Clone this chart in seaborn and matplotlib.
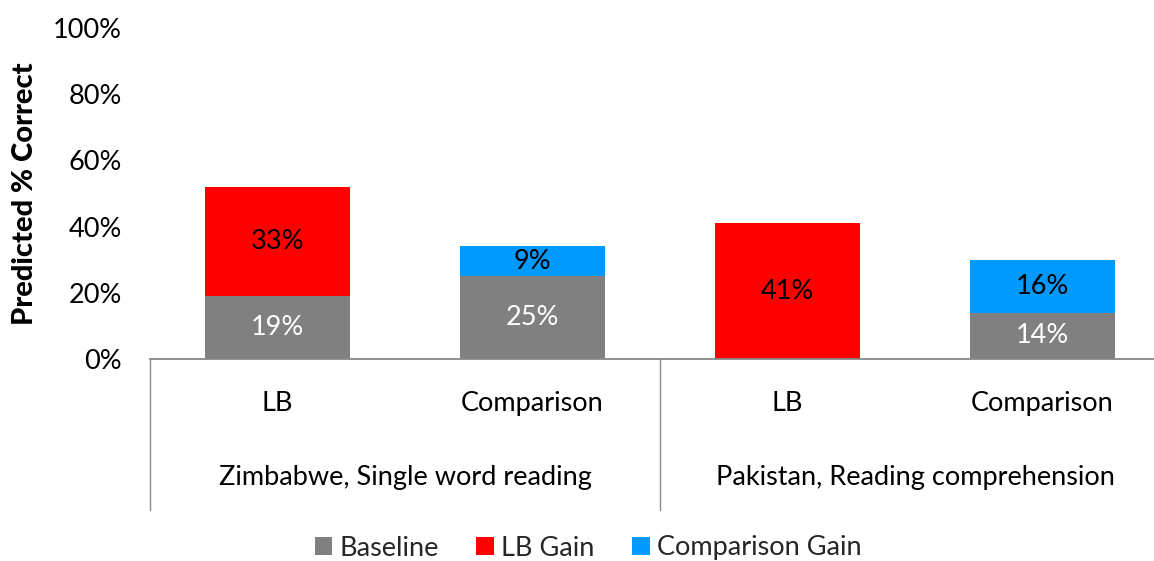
import matplotlib
matplotlib.use("Agg")
import matplotlib.pyplot as plt
from matplotlib.patches import Patch
import matplotlib.transforms as mtransforms
import pandas as pd
import seaborn as sns

# Data
groups = ["Zimbabwe, Single word reading", "Zimbabwe, Single word reading",
          "Pakistan, Reading comprehension", "Pakistan, Reading comprehension"]
arms = ["LB", "Comparison", "LB", "Comparison"]
baseline = [19, 25, 0, 14]
gain = [33, 9, 41, 16]
y_ticks = [0, 20, 40, 60, 80, 100]
legend_labels = ["Baseline", "LB Gain", "Comparison Gain"]

GRAY = "#808080"
RED = "#FF0000"
BLUE = "#0099FF"
AXIS = "#888888"
FS = 19.5

sns.set_theme(style="white")
plt.rcParams["font.family"] = ["Lato", "DejaVu Sans"]

df = pd.DataFrame({"group": groups, "arm": arms, "baseline": baseline, "gain": gain})
df["key"] = [f"{g}|{a}" for g, a in zip(df["group"], df["arm"])]
df["total"] = df["baseline"] + df["gain"]

fig = plt.figure(figsize=(11.54, 5.61), dpi=100)
ax = fig.add_axes([150 / 1154, 1 - 359 / 561, 1020 / 1154, 331 / 561])

bar_w = 0.57
sns.barplot(data=df, x="key", y="total", hue="arm",
            palette={"LB": RED, "Comparison": BLUE}, dodge=False,
            width=bar_w, saturation=1, legend=False, ax=ax, order=list(df["key"]),
            linewidth=0)
sns.barplot(data=df, x="key", y="baseline", color=GRAY,
            width=bar_w, saturation=1, ax=ax, order=list(df["key"]), linewidth=0)

# Segment labels
for i, row in df.iterrows():
    if row["baseline"] > 0:
        ax.text(i, row["baseline"] / 2, f"{row['baseline']:.0f}%", ha="center",
                va="center", color="white", fontsize=FS)
    if row["gain"] > 0:
        ax.text(i, row["baseline"] + row["gain"] / 2, f"{row['gain']:.0f}%",
                ha="center", va="center", color="black", fontsize=FS)

ax.set_xlim(-0.5, 3.5)
ax.set_ylim(0, 100)
ax.set_yticks(y_ticks)
ax.set_yticklabels([f"{t}%" for t in y_ticks], fontsize=FS, color="black")
ax.set_xticks(range(len(arms)))
ax.set_xticklabels(arms, fontsize=FS, color="black")
ax.tick_params(axis="x", length=0, pad=23)
ax.tick_params(axis="y", length=0, pad=20)
ax.set_xlabel("")
ax.set_ylabel("Predicted % Correct", fontsize=21, fontweight="black",
              color="black", labelpad=11)

for s in ["top", "right", "left"]:
    ax.spines[s].set_visible(False)
ax.spines["bottom"].set_color(AXIS)
ax.spines["bottom"].set_linewidth(1.3)

# Group separators and group labels beneath the category labels
trans = mtransforms.blended_transform_factory(ax.transData, ax.transAxes)
for xs in [-0.5, 1.5, 3.5]:
    ax.plot([xs, xs], [0, -0.456], transform=trans, color=AXIS, lw=1.0,
            clip_on=False)
group_names = [groups[0], groups[2]]
for gi, name in enumerate(group_names):
    ax.text(gi * 2 + 0.5, -119 / 331, name, transform=trans, ha="center",
            va="center", fontsize=FS, color="black")

handles = [Patch(facecolor=c, edgecolor="none") for c in (GRAY, RED, BLUE)]
fig.legend(handles, legend_labels, loc="center", bbox_to_anchor=(588 / 1154, 1 - 548 / 561),
           ncol=3, frameon=False, fontsize=FS, handlelength=0.65, handleheight=0.65,
           handletextpad=0.25, columnspacing=1.4)

fig.savefig("out.png", dpi=100)
